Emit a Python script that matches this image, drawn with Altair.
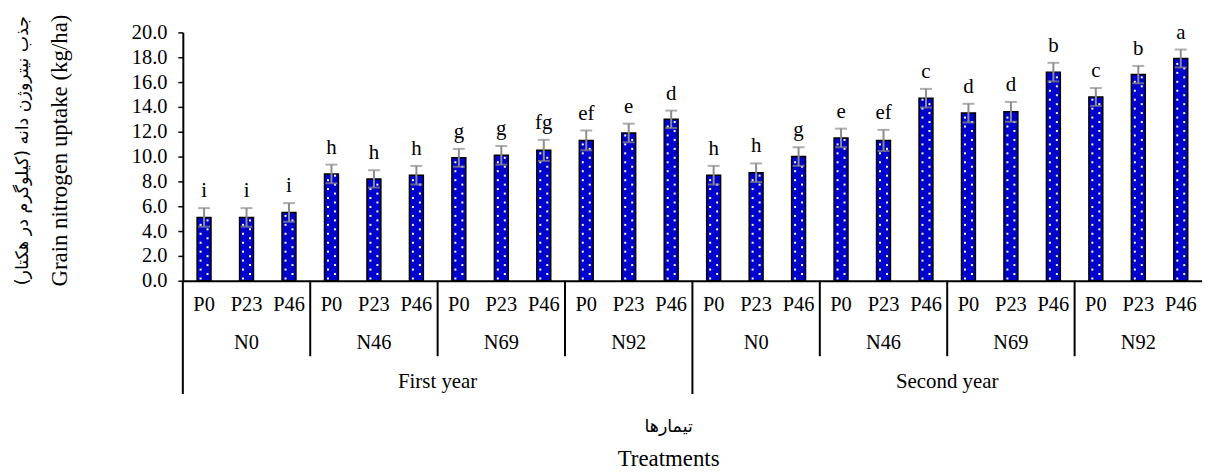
import altair as alt
import pandas as pd

# ---- data ----
year_names = ["First year", "Second year"]
n_levels = ["N0", "N46", "N69", "N92"]
p_levels = ["P0", "P23", "P46"]
uptake = [5.1, 5.1, 5.5, 8.6, 8.2, 8.5, 9.9, 10.1, 10.5, 11.3, 11.9, 13.0,
          8.5, 8.7, 10.0, 11.5, 11.3, 14.7, 13.5, 13.6, 16.8, 14.8, 16.6, 17.9]
errors = [0.75, 0.75, 0.75, 0.75, 0.7, 0.75, 0.72, 0.75, 0.85, 0.8, 0.75, 0.7,
          0.75, 0.75, 0.75, 0.75, 0.85, 0.75, 0.75, 0.8, 0.75, 0.72, 0.7, 0.72]
letters = ["i", "i", "i", "h", "h", "h", "g", "g", "fg", "ef", "e", "d",
           "h", "h", "g", "e", "ef", "c", "d", "d", "b", "c", "b", "a"]
y_ticks = [0, 2, 4, 6, 8, 10, 12, 14, 16, 18, 20]
title_en = "Grain nitrogen uptake (kg/ha)"
title_fa = "جذب نیتروژن دانه (کیلوگرم در هکتار)"
xtitle_en = "Treatments"
xtitle_fa = "تیمارها"

rows = []
i = 0
for y in year_names:
    for n in n_levels:
        for p in p_levels:
            rows.append(dict(key=f"{y}|{n}|{p}", year=y, n=n, p=p,
                             value=uptake[i], lo=uptake[i] - errors[i],
                             hi=uptake[i] + errors[i], letter=letters[i], idx=i))
            i += 1
df = pd.DataFrame(rows)
keys = list(df["key"])

# group label tables
n_lab = df[df["p"] == "P23"][["key", "n"]]
yr_lab = df[df["idx"].isin([6, 18])][["key", "year"]]
n_sep = df[df["idx"].isin([3, 6, 9, 15, 18, 21])][["key"]]
yr_sep = df[df["idx"].isin([0, 12])][["key"]]

# white dot texture inside the bars
dots = []
step = 0.36
for r in rows:
    k = 0
    yv = step / 2
    while yv < r["value"] - 0.12:
        dots.append(dict(key=r["key"], dy=yv, col=k % 2))
        k += 1
        yv += step
dots = pd.DataFrame(dots)

W, H = 1026, 250
SERIF = "Liberation Serif"
FA = "DejaVu Sans"
ERR = "#8c8c8c"

xscale = alt.Scale(type="band", paddingInner=0, paddingOuter=0)
yscale = alt.Scale(domain=[0, 20], nice=False)

xaxis = alt.Axis(labels=False, ticks=False, title=None, grid=False,
                 domainColor="black", domainWidth=2)
yaxis = alt.Axis(values=y_ticks, format=".1f", title=None, grid=False,
                 labelFont=SERIF, labelFontSize=20.5, labelColor="black",
                 labelPadding=11, tickColor="black", tickSize=5, tickWidth=1.5,
                 domainColor="black", domainWidth=2)


def X(band=None):
    kw = dict(sort=keys, scale=xscale, axis=xaxis, title=None)
    if band is not None:
        kw["bandPosition"] = band
    return alt.X("key:N", **kw)


def Y(field):
    return alt.Y(field, scale=yscale, axis=yaxis, title=None)


base = alt.Chart(df)

bars = base.mark_bar(width=14, fill="#0000cc", stroke="black", strokeWidth=1.5).encode(
    x=X(), y=Y("value:Q"))

dot_base = alt.Chart(dots)
dots_l = dot_base.transform_filter("datum.col == 0").mark_square(
    size=4, color="white", opacity=1, filled=True, xOffset=-3.5).encode(
    x=X(), y=Y("dy:Q"))
dots_r = dot_base.transform_filter("datum.col == 1").mark_square(
    size=4, color="white", opacity=1, filled=True, xOffset=3.5).encode(
    x=X(), y=Y("dy:Q"))

err_rule = base.mark_rule(color=ERR, strokeWidth=2).encode(
    x=X(), y=Y("lo:Q"), y2="hi:Q")
cap_hi = base.mark_tick(color=ERR, size=12, thickness=2).encode(
    x=X(), y=Y("hi:Q"))
cap_lo = base.mark_tick(color=ERR, size=12, thickness=2).encode(
    x=X(), y=Y("lo:Q"))

letter_txt = base.mark_text(font=SERIF, fontSize=21, color="black",
                            baseline="alphabetic", dy=-11).encode(
    x=X(), y=Y("hi:Q"), text="letter:N")

p_txt = base.mark_text(font=SERIF, fontSize=20.5, color="black", baseline="middle").encode(
    x=X(), y=alt.value(H + 24), text="p:N")
n_txt = alt.Chart(n_lab).mark_text(font=SERIF, fontSize=20.5, color="black",
                                   baseline="middle").encode(
    x=X(), y=alt.value(H + 63), text="n:N")
yr_txt = alt.Chart(yr_lab).mark_text(font=SERIF, fontSize=21, color="black",
                                     baseline="middle").encode(
    x=X(band=0), y=alt.value(H + 102), text="year:N")

n_lines = alt.Chart(n_sep).mark_rule(color="black", strokeWidth=2).encode(
    x=X(band=0), y=alt.value(H), y2=alt.value(H + 76))
yr_lines = alt.Chart(yr_sep).mark_rule(color="black", strokeWidth=2).encode(
    x=X(band=0), y=alt.value(H), y2=alt.value(H + 114))

titles = pd.DataFrame({"t": [title_en, title_fa, xtitle_fa, xtitle_en]})
t_en = alt.Chart(titles).transform_filter(alt.datum.t == title_en).mark_text(
    font=SERIF, fontSize=23, angle=270, color="black", baseline="middle").encode(
    x=alt.value(-124), y=alt.value(119), text="t:N")
t_fa = alt.Chart(titles).transform_filter(alt.datum.t == title_fa).mark_text(
    font=FA, fontSize=17.5, angle=270, color="black", baseline="middle").encode(
    x=alt.value(-161), y=alt.value(119), text="t:N")
xt_fa = alt.Chart(titles).transform_filter(alt.datum.t == xtitle_fa).mark_text(
    font=FA, fontSize=17.5, color="black", baseline="middle").encode(
    x=alt.value(489), y=alt.value(H + 147), text="t:N")
xt_en = alt.Chart(titles).transform_filter(alt.datum.t == xtitle_en).mark_text(
    font=SERIF, fontSize=23, color="black", baseline="middle").encode(
    x=alt.value(489), y=alt.value(H + 180), text="t:N")

chart = alt.layer(
    bars, dots_l, dots_r, err_rule, cap_hi, cap_lo, letter_txt,
    p_txt, n_txt, yr_txt, n_lines, yr_lines, t_en, t_fa, xt_fa, xt_en,
).properties(
    width=W, height=H,
    autosize=alt.AutoSizeParams(type="none"),
    padding={"left": 176, "top": 23, "right": 0, "bottom": 192},
    background="white",
).configure_view(stroke=None)

chart.save("out.html", embed_options={"renderer": "svg", "actions": False})
